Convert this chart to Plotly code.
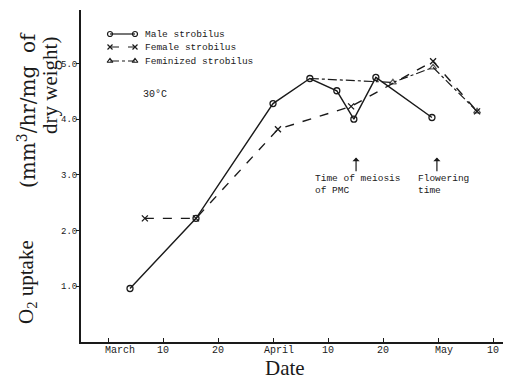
import plotly.graph_objects as go

# Data (x in "day units": tick 0 = March 1, 10 units per labelled tick, evenly spaced as in the original)
male_x = [4.0, 16.0, 30.0, 36.7, 41.6, 44.7, 48.7, 58.9]
male_y = [0.96, 2.22, 4.28, 4.73, 4.51, 4.00, 4.75, 4.03]

female_x = [6.7, 16.0, 30.9, 44.2, 59.1, 67.1]
female_y = [2.22, 2.22, 3.82, 4.23, 5.04, 4.14]

feminized_x = [36.7, 51.8, 59.1, 67.1]
feminized_y = [4.73, 4.66, 4.93, 4.14]

series_names = ["Male strobilus", "Female strobilus", "Feminized strobilus"]

tick_vals = [0, 10, 20, 30, 40, 50, 60, 70]
tick_text = ["\u00a0\u00a0\u00a0\u00a0March", "10", "20", "\u00a0\u00a0April", "10", "20", "\u00a0\u00a0May", "10"]
y_tick_vals = [1, 2, 3, 4, 5]
y_tick_text = ["1.0", "2.0", "3.0", "4.0", "5.0"]

INK = "#1a1a1a"
MONO = "Liberation Mono, Courier New, monospace"
SERIF = "Liberation Serif, Times New Roman, serif"
WSERIF = "DejaVu Serif, serif"

W, H = 511, 382
OFF = 8  # default page body margin offsets the figure by 8 px
# desired plot area in page pixels
PL, PR, PT, PB = 81, 511, 10, 342
L = PL - OFF
T = PT - OFF
R = (OFF + W) - PR
B = (OFF + H) - PB
pw, ph = W - L - R, H - T - B


def paper(px, py):
    return (px - OFF - L) / pw, 1 - (py - OFF - T) / ph


styles = [
    dict(dash="solid", symbol="circle-open", width=1.4),
    dict(dash="dash", symbol="x-thin", width=1.4),
    dict(dash="dashdot", symbol="triangle-up-open", width=1.2),
]

fig = go.Figure()
for (xs, ys), name, st in zip([(male_x, male_y), (female_x, female_y), (feminized_x, feminized_y)],
                              series_names, styles):
    sizes = 6
    if name == "Feminized strobilus":
        sizes = [0] + [6] * (len(xs) - 1)
    fig.add_trace(go.Scatter(
        x=xs, y=ys, mode="lines+markers", name=name, showlegend=False,
        line=dict(color=INK, width=st["width"], dash=st["dash"]),
        marker=dict(symbol=st["symbol"], size=sizes, color=INK, line=dict(width=1.3, color=INK)),
    ))

# manual legend on an overlay axis measured in page pixels
leg_x0, leg_x1, leg_text_x = 110, 135, 143
leg_rows = [34, 47, 61]
for name, st, ry in zip(series_names, styles, leg_rows):
    fig.add_trace(go.Scatter(
        x=[leg_x0, leg_x1], y=[ry, ry], xaxis="x2", yaxis="y2", mode="lines+markers",
        showlegend=False, hoverinfo="skip",
        line=dict(color=INK, width=1.2, dash=st["dash"]),
        marker=dict(symbol=st["symbol"], size=5, color=INK, line=dict(width=1.2, color=INK)),
    ))
    fig.add_annotation(x=leg_text_x, y=ry, xref="x2", yref="y2", text=name, showarrow=False,
                       xanchor="left", yanchor="middle",
                       font=dict(family=MONO, size=9.5, color=INK))

# 30 degC label
fig.add_annotation(x=8.5, y=4.44, text="30°C", showarrow=False, xref="x", yref="y",
                   font=dict(family=MONO, size=10, color=INK))

# arrows
for ax_x in [45.1, 59.8]:
    fig.add_annotation(x=ax_x, y=3.31, ax=ax_x, ay=3.04, xref="x", yref="y", axref="x", ayref="y",
                       text="", showarrow=True, arrowhead=1, arrowsize=1, arrowwidth=1.2, arrowcolor=INK)

fig.add_annotation(x=37.3, y=3.07, text="Time of meiosis<br>of PMC", showarrow=False,
                   xanchor="left", yanchor="top", align="left", xref="x", yref="y",
                   font=dict(family=MONO, size=9.5, color=INK))
fig.add_annotation(x=56.0, y=3.07, text="Flowering<br>time", showarrow=False,
                   xanchor="left", yanchor="top", align="left", xref="x", yref="y",
                   font=dict(family=MONO, size=9.5, color=INK))

# axis titles (paper coords from page pixels)
titles = [
    (27, 282, "O<sub>2</sub> uptake", SERIF, 21, -90),
    (27, 110, "(mm<sup>3</sup>/hr/mg\u00a0\u00a0of", WSERIF, 20, -90),
    (50, 86, "dry weight)", SERIF, 21, -90),
    (285, 368, "Date", SERIF, 21, 0),
]
for tx, ty, text, fam, size, ang in titles:
    px_, py_ = paper(tx, ty)
    fig.add_annotation(x=px_, y=py_, xref="paper", yref="paper", text=text,
                       xanchor="center", yanchor="middle", textangle=ang, showarrow=False,
                       font=dict(family=fam, size=size, color=INK))

fig.update_layout(
    width=W, height=H,
    margin=dict(l=L, r=R, t=T, b=B, pad=0),
    paper_bgcolor="white", plot_bgcolor="white",
    showlegend=False,
    xaxis=dict(range=[-4.91, 73.27], tickvals=tick_vals, ticktext=tick_text, automargin=False,
               showline=True, linewidth=2, linecolor=INK, ticks="inside", ticklen=4,
               tickcolor=INK, showgrid=False, zeroline=False, ticklabelstandoff=-3,
               tickfont=dict(family=MONO, size=10, color=INK)),
    yaxis=dict(range=[0, 5.96], tickvals=y_tick_vals, ticktext=y_tick_text, automargin=False,
               showline=True, linewidth=2, linecolor=INK, ticks="outside", ticklen=3,
               tickcolor=INK, showgrid=False, zeroline=False, ticklabelstandoff=-3,
               tickfont=dict(family=MONO, size=9, color=INK)),
    xaxis2=dict(overlaying="x", range=[PL, PR], visible=False, automargin=False, fixedrange=True),
    yaxis2=dict(overlaying="y", range=[PB, PT], visible=False, automargin=False, fixedrange=True),
)

fig.write_html("out.html")
